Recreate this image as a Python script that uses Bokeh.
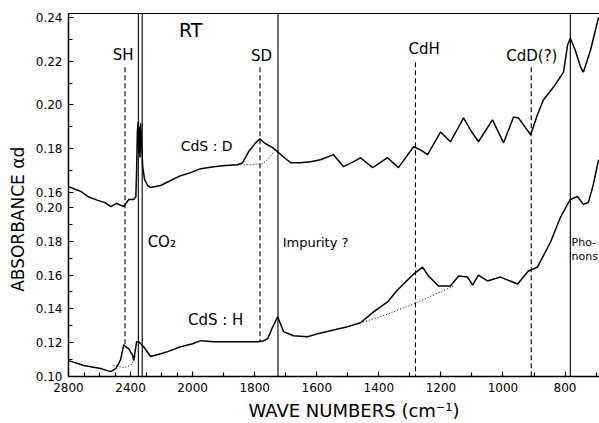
import math
import numpy as np
from bokeh.plotting import figure
from bokeh.models import Range1d, LinearAxis, FixedTicker, Span, Label
from bokeh.embed import file_html
from bokeh.resources import INLINE

# ---------------- data ----------------
# CdS:D spectrum (upper trace, upper absorbance scale)
wn_D = [2799, 2754, 2721, 2676, 2612, 2567, 2528, 2490, 2444, 2412, 2380, 2366,
        2361, 2356, 2351, 2347, 2343, 2339, 2335, 2330, 2322, 2310, 2290, 2271,
        2206, 2142, 2077, 2013, 1974, 1932, 1894, 1855, 1839, 1820, 1797, 1784,
        1765, 1742, 1726, 1704, 1684, 1652, 1620, 1588, 1546, 1514, 1481, 1459,
        1420, 1372, 1337, 1288, 1266, 1243, 1201, 1169, 1127, 1105, 1079, 1034,
        998, 966, 950, 911, 889, 870, 837, 805, 792, 783, 767, 750, 741, 718, 692]
ab_D = [0.1627, 0.1614, 0.1605, 0.1582, 0.1564, 0.1555, 0.1536, 0.1550, 0.1536, 0.1568, 0.1568, 0.1580,
        0.1700, 0.1880, 0.1923, 0.1780, 0.1900, 0.1760, 0.1918, 0.1850, 0.1720, 0.1660, 0.1632, 0.1623,
        0.1632, 0.1655, 0.1677, 0.1691, 0.1709, 0.1718, 0.1723, 0.1727, 0.1736, 0.1786, 0.1827, 0.1845,
        0.1823, 0.1805, 0.1786, 0.1759, 0.1736, 0.1736, 0.1741, 0.1750, 0.1773, 0.1718, 0.1741, 0.1759,
        0.1714, 0.1759, 0.1714, 0.1809, 0.1795, 0.1773, 0.1877, 0.1832, 0.1941, 0.1886, 0.1832, 0.1932,
        0.1827, 0.1945, 0.1941, 0.1864, 0.1955, 0.2023, 0.2082, 0.2150, 0.2273, 0.2305, 0.2250, 0.2173, 0.2150, 0.2250, 0.2400]

# CdS:H spectrum (lower trace, lower absorbance scale)
wn_H = [2799, 2702, 2593, 2528, 2496, 2477, 2464, 2444, 2425, 2412, 2386, 2380,
        2361, 2348, 2335, 2316, 2271, 2206, 2161, 2077, 2000, 1974, 1932, 1878,
        1787, 1771, 1758, 1742, 1726, 1717, 1707, 1675, 1630, 1597, 1556, 1501,
        1459, 1417, 1372, 1340, 1288, 1259, 1240, 1208, 1169, 1143, 1114, 1098,
        1079, 1050, 1008, 953, 918, 889, 847, 815, 789, 783, 760, 741, 725, 709, 692]
ab_H = [0.1094, 0.1065, 0.1047, 0.1029, 0.1047, 0.1076, 0.1100, 0.1188, 0.1171, 0.1165, 0.1124, 0.1094,
        0.1206, 0.1206, 0.1194, 0.1176, 0.1118, 0.1135, 0.1147, 0.1176, 0.1194, 0.1212, 0.1206, 0.1206,
        0.1206, 0.1212, 0.1224, 0.1294, 0.1353, 0.1312, 0.1265, 0.1241, 0.1235, 0.1253, 0.1271, 0.1294,
        0.1318, 0.1382, 0.1441, 0.1512, 0.1606, 0.1647, 0.1594, 0.1535, 0.1535, 0.1594, 0.1588, 0.1541,
        0.1600, 0.1565, 0.1588, 0.1547, 0.1624, 0.1647, 0.1794, 0.1941, 0.2029, 0.2047, 0.2065, 0.2018,
        0.2029, 0.2135, 0.2282]

# dotted baselines
baseD_wn = [1855, 1813, 1775, 1755, 1739]
baseD_ab = [0.1727, 0.1727, 0.1732, 0.1755, 0.1786]
baseH1_wn = [2509, 2444, 2399, 2367]
baseH1_ab = [0.1065, 0.1053, 0.1065, 0.1118]
baseH2_wn = [1469, 1395, 1288, 1159]
baseH2_ab = [0.1312, 0.1353, 0.1429, 0.1535]

# solid marker lines (CO2 pair, impurity, phonons)
solid_wn = [2350, 2325, 1725, 783]
# dashed marker lines: wavenumber, top (upper scale), bottom (lower scale)
dash_wn = [2436, 1783, 1282, 909]
dash_top_up = [0.2173, 0.2173, 0.2195, 0.2173]
dash_bot_lo = [0.119, 0.121, 0.100, 0.100]

# axis ticks
x_major = [2800, 2400, 2000, 1800, 1600, 1400, 1200, 1000, 800]
x_minor = [2700, 2600, 2500, 2300, 2200, 2100, 1900, 1700, 1500, 1300, 1100, 900, 700]
lo_major = [0.10, 0.12, 0.14, 0.16, 0.18, 0.20]
lo_minor = [0.11, 0.13, 0.15, 0.17, 0.19]
up_major = [0.16, 0.18, 0.20, 0.22, 0.24]
up_minor = [0.17, 0.19, 0.21, 0.23]

# scale ranges
LO = (0.10, 0.31471)
UP = (0.07591, 0.24182)
X_END = 689

FONT = "DejaVu Sans"
NB = "\u00a0"


def u(w):
    """IR chart abscissa: scale compressed by 2 above 2000 cm-1."""
    w = np.asarray(w, dtype=float)
    return np.where(w > 2000, -(w - 2000) / 2.0, 2000 - w)


def up_to_lo(v):
    v = np.asarray(v, dtype=float)
    return LO[0] + (v - UP[0]) / (UP[1] - UP[0]) * (LO[1] - LO[0])


p = figure(width=599, height=423, output_backend="svg", toolbar_location=None,
           x_range=Range1d(float(u(2800)), float(u(X_END))), y_range=Range1d(*LO),
           x_axis_type=None, y_axis_type=None,
           min_border_left=68, min_border_right=0, min_border_top=13, min_border_bottom=45)
p.extra_y_ranges = {"up": Range1d(*UP)}
p.outline_line_color = None
p.xgrid.visible = False
p.ygrid.visible = False
p.background_fill_color = "white"

# ---- axes ----
xt = [float(u(w)) for w in x_major]
xm = [float(u(w)) for w in x_minor]
xaxis = LinearAxis(ticker=FixedTicker(ticks=xt, minor_ticks=xm),
                   major_label_overrides={float(u(w)): str(w) for w in x_major},
                   axis_label=NB * 7 + "WAVE NUMBERS (cm\u207b\u00b9)")
yt_lo = [round(v, 6) for v in lo_major]
yt_up = [round(float(up_to_lo(v)), 6) for v in up_major]
ym = [round(v, 6) for v in lo_minor] + [round(float(up_to_lo(v)), 6) for v in up_minor]
ov = {}
for v, t in zip(lo_major, yt_lo):
    ov[t] = "%.2f" % v
for v, t in zip(up_major, yt_up):
    ov[t] = "%.2f" % v
yaxis = LinearAxis(ticker=FixedTicker(ticks=yt_lo + yt_up, minor_ticks=ym),
                   major_label_overrides=ov,
                   axis_label="ABSORBANCE \u03b1d" + NB * 9)
for ax in (xaxis, yaxis):
    ax.axis_line_width = 1.5
    ax.axis_line_color = "black"
    ax.major_tick_in = 5
    ax.major_tick_out = 0
    ax.minor_tick_in = 4
    ax.minor_tick_out = 0
    ax.major_tick_line_width = 1.2
    ax.minor_tick_line_width = 1.2
    ax.major_tick_line_color = "black"
    ax.minor_tick_line_color = "black"
    ax.major_label_text_font = FONT
    ax.major_label_text_font_size = "12px"
    ax.major_label_text_color = "black"
    ax.major_label_standoff = 6
    ax.axis_label_text_font = FONT
    ax.axis_label_text_font_style = "normal"
    ax.axis_label_text_color = "black"
    ax.axis_label_standoff = 5
xaxis.axis_label_text_font_size = "18px"
yaxis.axis_label_text_font_size = "17px"
p.add_layout(xaxis, "below")
p.add_layout(yaxis, "left")
top = LinearAxis(ticker=FixedTicker(ticks=[]), major_label_standoff=0,
                 major_tick_in=0, major_tick_out=0, minor_tick_in=0, minor_tick_out=0,
                 axis_line_width=1.2, axis_line_color="black")
p.add_layout(top, "above")

# ---- marker lines ----
for w in solid_wn:
    p.add_layout(Span(location=float(u(w)), dimension="height",
                      line_color="black", line_width=1.1))
p.segment(x0=u(dash_wn), y0=up_to_lo(dash_top_up), x1=u(dash_wn), y1=dash_bot_lo,
          line_color="black", line_width=1.1, line_dash="5 3")

# ---- spectra ----
p.line(u(wn_D), ab_D, y_range_name="up", line_color="black", line_width=1.5)
p.line(u(wn_H), ab_H, line_color="black", line_width=1.5)
p.line(u(baseD_wn), baseD_ab, y_range_name="up", line_color="black", line_width=1, line_dash="1 2")
p.line(u(baseH1_wn), baseH1_ab, line_color="black", line_width=1, line_dash="1 2")
p.line(u(baseH2_wn), baseH2_ab, line_color="black", line_width=1, line_dash="1 2")

# ---- texts ----
def lab(text, w, y, size, align="center", baseline="middle", upper=False):
    yy = float(up_to_lo(y)) if upper else y
    p.add_layout(Label(x=float(u(w)), y=yy, text=text, text_font=FONT,
                       text_font_size=size, text_align=align, text_baseline=baseline,
                       text_color="black"))

lab("RT", 2013, 0.2341, "19px", upper=True)
lab("SH", 2448, 0.2227, "15px", upper=True)
lab("SD", 1778, 0.2223, "15px", upper=True)
lab("CdH", 1254, 0.2255, "15px", upper=True)
lab("CdD(?)", 907, 0.2223, "15px", upper=True)
lab("CdS : D", 1955, 0.1811, "14px", upper=True)
lab("CO\u2082", 2290, 0.1794, "15px", align="left", baseline="alphabetic")
lab("Impurity ?", 1710, 0.1794, "13px", align="left", baseline="alphabetic")
lab("CdS : H", 1926, 0.1335, "15px")
lab("Pho-", 779, 0.1794, "11px", align="left", baseline="alphabetic")
lab("nons", 779, 0.1712, "11px", align="left", baseline="alphabetic")

open("out.html", "w").write(file_html(p, INLINE))
